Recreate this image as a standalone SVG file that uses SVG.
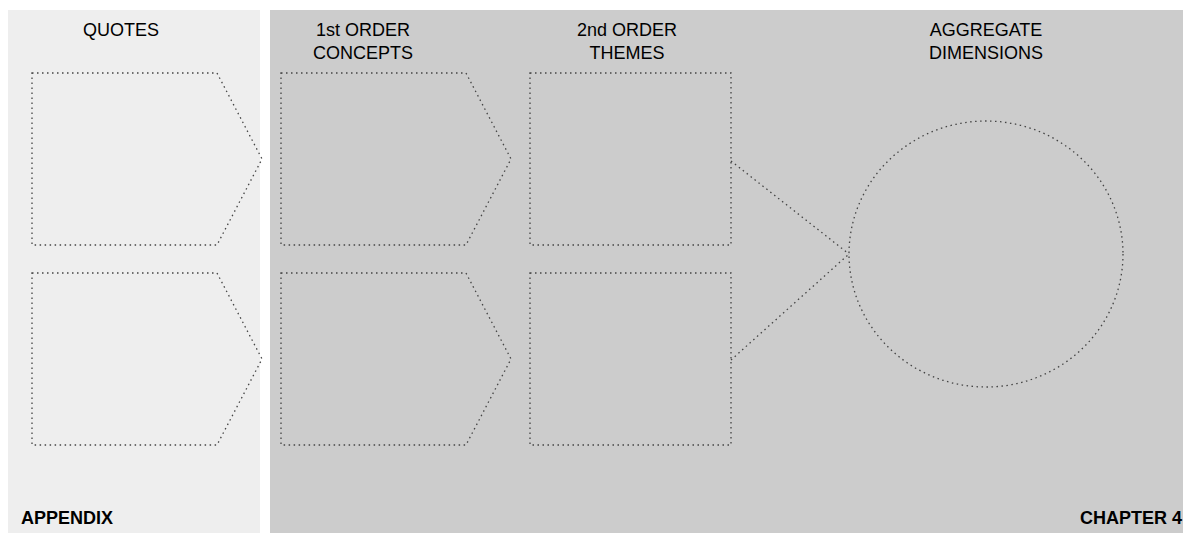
<svg xmlns="http://www.w3.org/2000/svg" width="1188" height="533" viewBox="0 0 1188 533">
<style>
.t{font-family:"Liberation Sans",Arial,sans-serif;font-size:18px;fill:#000;text-anchor:middle}
.b{font-family:"Liberation Sans",Arial,sans-serif;font-size:18px;font-weight:bold;fill:#000}
.d{fill:none;stroke:#444;stroke-width:1.3;stroke-dasharray:1.5 3.5}
</style>
<rect width="1188" height="533" fill="#fff"/>
<g id="appendix-panel"><rect x="8" y="10" width="252" height="523" fill="#eeeeee"/>
<text class="t" x="121" y="36">QUOTES</text>
<text class="b" x="21" y="524">APPENDIX</text></g>
<g id="chapter-panel"><rect x="270" y="10" width="913" height="523" fill="#cccccc"/>
<text class="t" x="363" y="36">1st ORDER</text><text class="t" x="363" y="59">CONCEPTS</text>
<text class="t" x="627" y="36">2nd ORDER</text><text class="t" x="627" y="59">THEMES</text>
<text class="t" x="986" y="36">AGGREGATE</text><text class="t" x="986" y="59">DIMENSIONS</text>
<text class="b" x="1182" y="524" text-anchor="end">CHAPTER 4</text></g>
<g id="quote1"><path class="d" d="M32 73H217L262 159L217 245H32Z"/></g>
<g id="quote2"><path class="d" d="M32 273H217L262 359L217 445H32Z"/></g>
<g id="concept1"><path class="d" d="M281 73H466L511 159L466 245H281Z"/></g>
<g id="concept2"><path class="d" d="M281 273H466L511 359L466 445H281Z"/></g>
<g id="theme1"><rect class="d" x="530" y="73" width="201" height="172"/></g>
<g id="theme2"><rect class="d" x="530" y="273" width="201" height="172"/></g>
<g id="dimension"><ellipse class="d" cx="986" cy="254" rx="137" ry="133"/></g>
<g id="connectors"><path class="d" d="M731 161L849 254M731 360L849 254"/></g>
</svg>
